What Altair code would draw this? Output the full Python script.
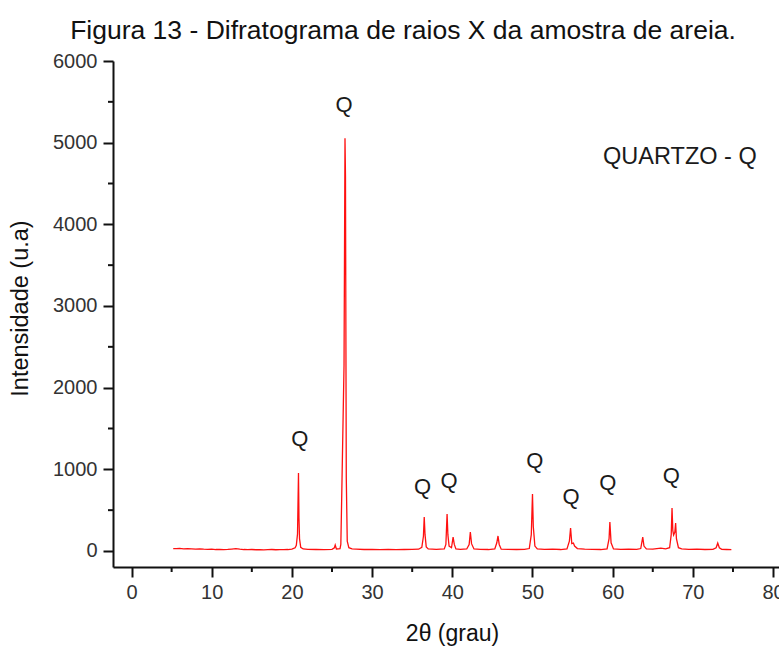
import altair as alt
import pandas as pd

# X-ray diffraction pattern of the sand sample (2θ in degrees, counts in a.u.)
two_theta = [
    5.2, 5.6, 6.0, 6.5, 7.0, 7.5, 8.0, 8.5, 9.0, 9.5, 10.0, 10.5, 11.0, 11.5,
    12.0, 12.5, 13.0, 13.5, 14.0, 14.5, 15.0, 15.5, 16.0, 16.5, 17.0, 17.5,
    18.0, 18.5, 19.0, 19.5, 20.0, 20.4, 20.55, 20.7, 20.82, 20.88, 20.95,
    21.1, 21.4, 22.0, 23.0, 24.0, 25.0, 25.3, 25.4, 25.55, 26.0, 26.1, 26.2,
    26.5, 26.62, 26.68, 26.78, 26.9, 27.1, 27.5, 28.0, 29.0, 30.0, 31.0, 32.0,
    33.0, 34.0, 35.0, 35.8, 36.2, 36.4, 36.5, 36.6, 36.75, 37.0, 38.0, 39.0,
    39.2, 39.35, 39.45, 39.6, 39.9, 40.1, 40.25, 40.45, 41.0, 41.8, 42.1,
    42.25, 42.4, 42.7, 43.5, 44.5, 45.3, 45.55, 45.7, 45.85, 46.1, 47.0, 48.0,
    49.0, 49.6, 49.85, 50.0, 50.1, 50.3, 50.6, 51.5, 52.5, 53.5, 54.3, 54.6,
    54.75, 54.9, 55.1, 55.25, 55.6, 56.5, 57.5, 58.5, 59.3, 59.55, 59.65, 59.8,
    60.1, 61.0, 62.0, 63.0, 63.5, 63.75, 63.9, 64.2, 65.0, 66.0, 66.6, 67.1,
    67.3, 67.4, 67.5, 67.6, 67.75, 67.85, 67.95, 68.2, 68.6, 69.5, 70.5, 71.5,
    72.5, 72.9, 73.1, 73.3, 73.6, 74.2, 74.8,
]
intensity = [
    30, 28, 32, 27, 29, 26, 24, 27, 22, 20, 22, 18, 20, 17,
    19, 24, 30, 22, 18, 16, 18, 15, 17, 14, 16, 18,
    15, 17, 16, 18, 22, 40, 70, 210, 955, 404, 150,
    45, 25, 20, 18, 17, 20, 40, 73, 25, 30, 80, 604,
    2277, 5053, 4583, 900, 120, 40, 25, 22, 18, 20, 17, 19,
    16, 18, 20, 22, 45, 180, 416, 200, 50, 25, 20, 25,
    80, 453, 200, 60, 40, 171, 80, 25, 20, 25, 80,
    233, 90, 25, 20, 18, 25, 100, 184, 80, 22, 20, 18,
    20, 30, 200, 698, 300, 60, 25, 20, 22, 18, 25, 120,
    282, 90, 98, 60, 30, 22, 20, 18, 25, 150, 355, 100,
    25, 20, 22, 20, 30, 171, 60, 25, 22, 35, 25, 40,
    200, 527, 250, 196, 230, 343, 150, 40, 25, 20, 22, 18,
    20, 40, 98, 40, 20, 18, 16,
]

# Peak labels (quartz reflections)
q_pos = [21.0, 26.5, 36.3, 39.6, 50.3, 54.8, 59.4, 67.3]
q_height = [1371, 5461, 787, 861, 1106, 665, 829, 918]
q_text = ["Q"] * len(q_pos)

legend_text = ["QUARTZO - Q"]
legend_x = [58.8]
legend_y = [4824]

x_major = [0, 10, 20, 30, 40, 50, 60, 70, 80]
x_minor = [5, 15, 25, 35, 45, 55, 65, 75]
y_major = [0, 1000, 2000, 3000, 4000, 5000, 6000]
y_minor = [500, 1500, 2500, 3500, 4500, 5500]

FONT = "Liberation Sans"
W, H = 666, 506

pattern = pd.DataFrame({"t": two_theta, "i": intensity})
labels = pd.DataFrame({"t": q_pos, "i": q_height, "txt": q_text})
legend = pd.DataFrame({"t": legend_x, "i": legend_y, "txt": legend_text})
xmin = pd.DataFrame({"t": x_minor})
ymin = pd.DataFrame({"i": y_minor})

x_scale = alt.Scale(domain=[-2.31, 80.74], nice=False, zero=False)
y_scale = alt.Scale(domain=[-196, 6000], nice=False, zero=False)

x_axis = alt.Axis(
    values=x_major, format="d", title="2θ (grau)", grid=False, tickSize=10, tickWidth=2,
    domainWidth=2, domainColor="#111", tickColor="#111",
    labelFont=FONT, labelFontSize=20, labelColor="#333", labelPadding=5,
    titleFont=FONT, titleFontSize=23, titleFontWeight="normal", titleColor="#111",
    titleX=339, titleY=66, titleBaseline="middle", titleAlign="center",
    labelFlush=False, labelOverlap=False,
)
y_axis = alt.Axis(
    values=y_major, format="d", title="Intensidade (u.a)", grid=False, tickSize=10, tickWidth=2,
    domainWidth=2, domainColor="#111", tickColor="#111",
    labelFont=FONT, labelFontSize=20, labelColor="#333", labelPadding=6,
    titleFont=FONT, titleFontSize=23.5, titleFontWeight="normal", titleColor="#111",
    titleX=-93, titleY=247, titleBaseline="middle", titleAlign="center", titleAngle=-90,
    labelFlush=False, labelOverlap=False,
)

line = alt.Chart(pattern).mark_line(color="#ff1010", strokeWidth=1.3).encode(
    x=alt.X("t:Q", scale=x_scale, axis=x_axis),
    y=alt.Y("i:Q", scale=y_scale, axis=y_axis),
)

q_marks = alt.Chart(labels).mark_text(
    font=FONT, fontSize=22, color="#1a1a1a", align="center", baseline="middle"
).encode(
    x=alt.X("t:Q", scale=x_scale),
    y=alt.Y("i:Q", scale=y_scale),
    text="txt:N",
)

legend_mark = alt.Chart(legend).mark_text(
    font=FONT, fontSize=23.5, color="#1a1a1a", align="left", baseline="middle"
).encode(
    x=alt.X("t:Q", scale=x_scale),
    y=alt.Y("i:Q", scale=y_scale),
    text="txt:N",
)

# Minor ticks, drawn through the same scales as the axes
x_minor_ticks = alt.Chart(xmin).mark_rule(color="#111", strokeWidth=2).encode(
    x=alt.X("t:Q", scale=x_scale),
    y=alt.value(H),
    y2=alt.value(H + 5),
)
y_minor_ticks = alt.Chart(ymin).mark_rule(color="#111", strokeWidth=2).encode(
    y=alt.Y("i:Q", scale=y_scale),
    x=alt.value(-5),
    x2=alt.value(0),
)

chart = alt.layer(line, q_marks, legend_mark, x_minor_ticks, y_minor_ticks).properties(
    width=W,
    height=H,
    autosize=alt.AutoSizeParams(type="none"),
    padding={"left": 113, "top": 61, "right": 0, "bottom": 79},
    title=alt.TitleParams(
        "Figura 13 - Difratograma de raios X da amostra de areia.",
        font=FONT, fontSize=26.5, fontWeight="normal", color="#111",
        anchor="middle", dx=-43, offset=7,
    ),
).configure(background="white").configure_view(stroke="transparent")

chart.save("out.html", embed_options={"renderer": "svg", "actions": False})
